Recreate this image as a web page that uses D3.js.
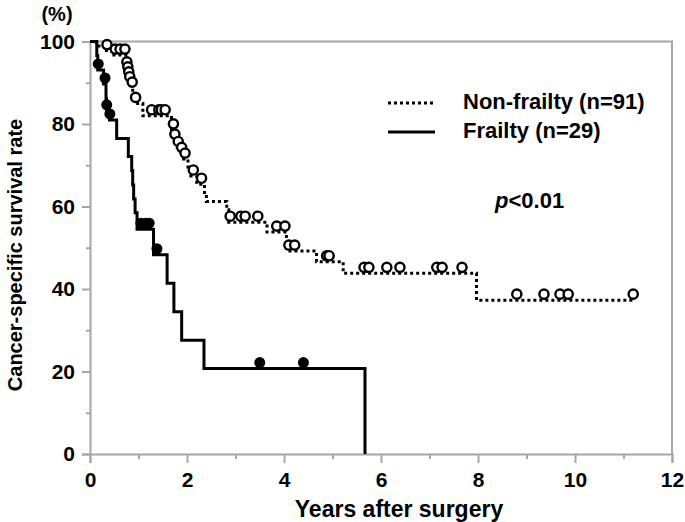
<!DOCTYPE html>
<html><head><meta charset="utf-8">
<script src="https://cdn.jsdelivr.net/npm/d3@7"></script>
<style>body{margin:0;background:#fff}text{font-family:"Liberation Sans",Arial,sans-serif;font-weight:bold;fill:#000}</style>
</head><body><svg id="c" width="685" height="522"></svg>
<script>
// Non-frailty step function (time in years, survival %)
const nonFrailTimes = [0, 0.13, 0.30, 0.45, 0.74, 0.76, 0.78, 0.80, 0.82, 0.85, 0.88, 0.91, 1.09, 1.68, 1.74, 1.80, 1.86, 1.93, 2.02, 2.08, 2.20, 2.36, 2.40, 2.82, 2.86, 3.65, 4.05, 4.67, 5.22, 7.97, 11.2];
const nonFrailSurv  = [100, 98.9, 97.8, 96.7, 95.1, 93.6, 92.4, 91.2, 90.0, 88.7, 87.2, 85.0, 82.0, 78.6, 76.1, 74.3, 72.9, 71.5, 69.6, 67.4, 65.4, 63.4, 61.2, 59.2, 56.2, 53.8, 49.2, 46.6, 43.8, 37.3, 37.3];
const nonFrailCensor = [0.35, 0.52, 0.62, 0.72, 0.76, 0.78, 0.80, 0.82, 0.87, 0.94, 1.27, 1.42, 1.47, 1.55, 1.72, 1.75, 1.82, 1.89, 1.96, 2.13, 2.30, 2.89, 3.11, 3.20, 3.46, 3.85, 4.02, 4.10, 4.22, 4.88, 4.93, 5.65, 5.75, 6.12, 6.39, 7.15, 7.26, 7.67, 8.80, 9.36, 9.69, 9.86, 11.2];
// Frailty step function
const frailTimes = [0, 0.14, 0.16, 0.28, 0.33, 0.34, 0.40, 0.55, 0.79, 0.86, 0.88, 0.90, 0.93, 0.97, 1.31, 1.59, 1.73, 1.89, 2.35, 5.67];
const frailSurv  = [100, 96.6, 93.1, 89.7, 86.2, 83.2, 81.0, 76.5, 72.1, 68.7, 65.2, 61.8, 58.5, 54.5, 48.3, 41.4, 34.5, 27.6, 20.7, 0];
const frailCensor = [0.17, 0.31, 0.345, 0.41, 1.05, 1.15, 1.22, 1.38, 3.50, 4.40];

const xTicks = [0, 2, 4, 6, 8, 10, 12];
const xMinor = [1, 3, 5, 7, 9, 11];
const yTicks = [0, 20, 40, 60, 80, 100];
const yMinor = [10, 30, 50, 70, 90];
const legendLabels = ["Non-frailty (n=91)", "Frailty (n=29)"];
const pLabel = ["p", "<0.01"];

const svg = d3.select("#c");
const x = d3.scaleLinear().domain([0, 12]).range([90, 672]);
const y = d3.scaleLinear().domain([0, 100]).range([454, 41.5]);
const gray = "#a6a6a6";

// frame (top and right)
svg.append("path").attr("d", `M${x(0)},${y(100)}H${x(12)}V${y(0)}`).attr("fill","none").attr("stroke",gray).attr("stroke-width",2);

// axes
const xAx = svg.append("g").attr("transform", `translate(0,${y(0)})`)
  .call(d3.axisBottom(x).tickValues(xTicks).tickSize(9).tickPadding(9).tickFormat(d3.format("d")));
const xAxMinor = svg.append("g").attr("transform", `translate(0,${y(0)})`)
  .call(d3.axisBottom(x).tickValues(xMinor).tickSize(5).tickFormat(""));
const yAx = svg.append("g").attr("transform", `translate(${x(0)},0)`)
  .call(d3.axisLeft(y).tickValues(yTicks).tickSize(8).tickPadding(7).tickFormat(d3.format("d")));
const yAxMinor = svg.append("g").attr("transform", `translate(${x(0)},0)`)
  .call(d3.axisLeft(y).tickValues(yMinor).tickSize(4).tickFormat(""));
[xAx, xAxMinor, yAx, yAxMinor].forEach(g => {
  g.selectAll(".domain").attr("stroke", gray).attr("stroke-width", 2);
  g.selectAll(".tick line").attr("stroke", gray).attr("stroke-width", 2);
  g.selectAll("text").style("font-size", "21px").attr("font-family", null);
});
xAxMinor.select(".domain").remove(); yAxMinor.select(".domain").remove();

// curves
const stepLine = d3.line().x(d => x(d[0])).y(d => y(d[1])).curve(d3.curveStepAfter);
const nfData = nonFrailTimes.map((t, i) => [t, nonFrailSurv[i]]);
const fData = frailTimes.map((t, i) => [t, frailSurv[i]]);
svg.append("path").attr("d", stepLine(nfData)).attr("fill","none").attr("stroke","#000")
  .attr("stroke-width",3).attr("stroke-dasharray","3,3");
svg.append("path").attr("d", stepLine(fData)).attr("fill","none").attr("stroke","#000")
  .attr("stroke-width",3);

function levelAt(times, surv, t) {
  const i = d3.bisectRight(times, t) - 1;
  return surv[Math.max(0, i)];
}
const off = -6;
svg.append("g").selectAll("circle").data(nonFrailCensor).join("circle")
  .attr("cx", d => x(d)).attr("cy", d => y(levelAt(nonFrailTimes, nonFrailSurv, d)) + off)
  .attr("r", 4.6).attr("fill","#fff").attr("stroke","#000").attr("stroke-width",2.4);
svg.append("g").selectAll("circle").data(frailCensor).join("circle")
  .attr("cx", d => x(d)).attr("cy", d => y(levelAt(frailTimes, frailSurv, d)) + off)
  .attr("r", 5.5).attr("fill","#000");

// legend
svg.append("line").attr("x1",388).attr("x2",435).attr("y1",103).attr("y2",103)
  .attr("stroke","#000").attr("stroke-width",3).attr("stroke-dasharray","3,3");
svg.append("line").attr("x1",388).attr("x2",435).attr("y1",132).attr("y2",132)
  .attr("stroke","#000").attr("stroke-width",3);
svg.append("text").attr("x",463).attr("y",109).style("font-size","22px").text(legendLabels[0]);
svg.append("text").attr("x",463).attr("y",138).style("font-size","22px").text(legendLabels[1]);
const pt = svg.append("text").attr("x",495).attr("y",208).style("font-size","22px");
pt.append("tspan").attr("font-style","italic").text(pLabel[0]);
pt.append("tspan").text(pLabel[1]);

// titles
svg.append("text").attr("x", 399).attr("y", 517).attr("text-anchor","middle")
  .style("font-size","23px").text("Years after surgery");
svg.append("text").attr("transform", `translate(22,255) rotate(-90)`)
  .attr("text-anchor","middle").style("font-size","20px").text("Cancer-specific survival rate");
svg.append("text").attr("x",57).attr("y",21).attr("text-anchor","middle").style("font-size","20px").text("(%)");
</script></body></html>
